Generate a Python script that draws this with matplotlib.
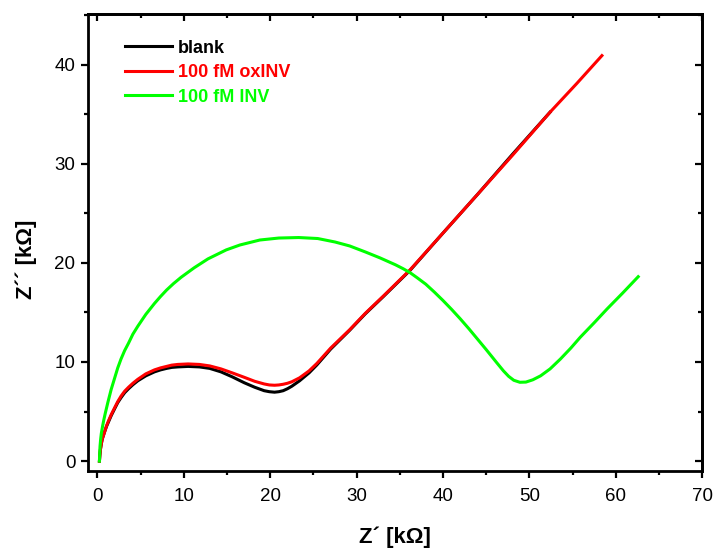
import matplotlib
matplotlib.use("Agg")
import matplotlib.pyplot as plt
from matplotlib.ticker import MultipleLocator

plt.rcParams["font.family"] = ["Liberation Sans", "DejaVu Sans"]

# Z' and Z'' in kOhm
blank_x = [0.23, 0.28, 0.35, 0.45, 0.55, 0.81, 1.05, 1.3, 1.6, 2.0, 2.35, 2.73, 3.15, 3.6,
           4.1, 4.67, 5.6, 6.6, 7.3, 8.0, 8.6, 9.3, 10.5, 11.8, 13.0, 14.3, 15.6, 17.0,
           18.2, 19.3, 19.9, 20.5, 21.0, 21.5, 22.0, 22.5, 23.4, 24.5, 25.4, 27.0, 29.2,
           31.0, 33.1, 36.2, 40.0, 44.0, 48.0, 52.4]
blank_y = [0.0, 0.6, 1.2, 1.75, 2.2, 2.9, 3.5, 4.0, 4.6, 5.3, 5.9, 6.4, 6.9, 7.3,
           7.7, 8.1, 8.6, 9.0, 9.2, 9.35, 9.45, 9.5, 9.55, 9.5, 9.35, 9.0, 8.5, 7.9,
           7.45, 7.1, 7.0, 6.95, 7.0, 7.1, 7.3, 7.55, 8.1, 8.9, 9.7, 11.3, 13.2,
           14.85, 16.6, 19.25, 23.0, 26.9, 30.9, 35.2]

ox_x = [0.23, 0.28, 0.35, 0.45, 0.55, 0.81, 1.05, 1.3, 1.6, 2.0, 2.35, 2.73, 3.15, 3.6,
        4.1, 4.67, 5.6, 6.6, 7.3, 8.0, 8.6, 9.3, 10.5, 11.8, 13.0, 14.3, 15.6, 17.0,
        18.2, 19.3, 19.9, 20.5, 21.0, 21.5, 22.0, 22.5, 23.4, 24.5, 25.4, 27.0, 29.2,
        31.0, 33.1, 36.2, 40.0, 44.0, 48.0, 52.4, 55.5, 58.4]
ox_y = [0.0, 0.6, 1.2, 1.75, 2.2, 2.9, 3.55, 4.1, 4.7, 5.4, 6.0, 6.55, 7.05, 7.45,
        7.85, 8.25, 8.8, 9.2, 9.4, 9.55, 9.68, 9.75, 9.8, 9.75, 9.6, 9.3, 8.9, 8.45,
        8.05, 7.78, 7.68, 7.65, 7.68, 7.75, 7.85, 8.0, 8.4, 9.1, 9.85, 11.4, 13.25,
        14.9, 16.65, 19.3, 23.0, 26.9, 30.8, 35.2, 38.1, 40.9]

inv_x = [0.23, 0.26, 0.3, 0.37, 0.45, 0.61, 0.75, 0.9, 1.2, 1.58, 2.0, 2.35, 2.73, 3.15,
         3.6, 4.1, 4.67, 5.6, 6.6, 7.3, 8.0, 8.8, 9.7, 11.2, 12.8, 14.9, 16.5, 18.8,
         21.0, 23.3, 25.5, 27.5, 29.2, 31.0, 32.7, 33.6, 34.5, 35.4, 36.2, 37.0, 38.0,
         39.0, 40.0, 41.0, 42.0, 43.0, 44.0, 45.0, 45.6, 46.2, 47.0, 47.6, 48.2, 48.9,
         49.6, 50.4, 51.3, 52.4, 53.6, 54.8, 55.9, 57.5, 59.0, 60.8, 62.6]
inv_y = [0.0, 0.8, 1.5, 2.2, 2.8, 3.6, 4.2, 4.8, 5.9, 7.2, 8.4, 9.4, 10.3, 11.15,
         11.9, 12.8, 13.6, 14.8, 15.9, 16.6, 17.25, 17.9, 18.55, 19.5, 20.4, 21.3, 21.8, 22.3,
         22.5, 22.55, 22.45, 22.1, 21.7, 21.1, 20.5, 20.15, 19.8, 19.4, 19.0, 18.5, 17.85,
         17.05, 16.2, 15.3, 14.35, 13.35, 12.3, 11.25, 10.6, 9.95, 9.1, 8.55, 8.15, 7.95,
         7.97, 8.2, 8.6, 9.3, 10.3, 11.4, 12.5, 13.95, 15.35, 16.95, 18.6]

fig = plt.figure(figsize=(7.15, 5.48), dpi=100)
ax = fig.add_axes([0.123, 0.1405, 0.859, 0.834])

ax.plot(blank_x, blank_y, color="black", lw=2.2, label="blank")
ax.plot(ox_x, ox_y, color="#ff0000", lw=2.2, label="100 fM oxINV")
ax.plot(inv_x, inv_y, color="#00ff00", lw=2.2, label="100 fM INV")

ax.set_xlim(-1.1, 70)
ax.set_ylim(-1.0, 45.1)

for s in ax.spines.values():
    s.set_linewidth(2.0)

ax.xaxis.set_major_locator(MultipleLocator(10))
ax.xaxis.set_minor_locator(MultipleLocator(5))
ax.yaxis.set_major_locator(MultipleLocator(10))
ax.yaxis.set_minor_locator(MultipleLocator(5))
ax.tick_params(which="major", direction="out", length=5, width=1.6, labelsize=13.5, pad=7)
ax.tick_params(which="minor", direction="out", length=3, width=1.6)
ax.tick_params(axis="y", pad=4)

# mirrored ticks pointing inward on top and right
top = ax.secondary_xaxis("top")
top.xaxis.set_major_locator(MultipleLocator(10))
top.xaxis.set_minor_locator(MultipleLocator(5))
right = ax.secondary_yaxis("right")
right.yaxis.set_major_locator(MultipleLocator(10))
right.yaxis.set_minor_locator(MultipleLocator(5))
for sec in (top, right):
    sec.tick_params(which="major", direction="in", length=5, width=1.6)
    sec.tick_params(which="minor", direction="in", length=3, width=1.6)
    for s in sec.spines.values():
        s.set_linewidth(2.0)
top.tick_params(labeltop=False)
right.tick_params(labelright=False)

ax.set_xlabel("Z´ [kΩ]", fontsize=16, fontweight="bold", labelpad=16)
ax.set_ylabel("Z´´ [kΩ]", fontsize=16, fontweight="bold")
ax.yaxis.set_label_coords(-0.083, 0.464)

ax.legend(loc="upper left", bbox_to_anchor=(0.06, 0.944), frameon=False,
          prop={"weight": "bold", "size": 13}, labelcolor="linecolor",
          handlelength=2.6, handletextpad=0.35, labelspacing=0.42,
          borderpad=0, borderaxespad=0)

fig.savefig("out.png", dpi=100)
